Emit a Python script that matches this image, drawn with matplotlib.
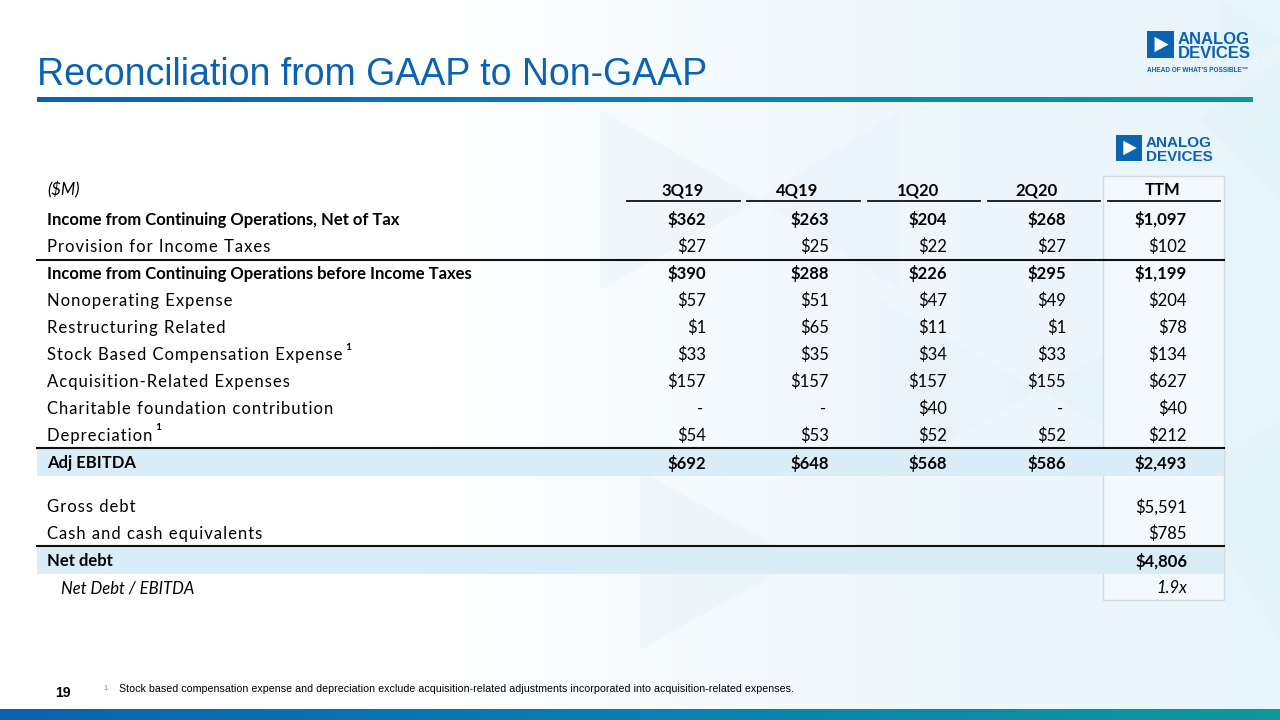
import numpy as np
import matplotlib.pyplot as plt
from matplotlib.patches import Rectangle, Polygon
from matplotlib.colors import LinearSegmentedColormap

# table data ($M)
row_labels = ["Income from Continuing Operations, Net of Tax",
              "Provision for Income Taxes",
              "Income from Continuing Operations before Income Taxes",
              "Nonoperating Expense",
              "Restructuring Related",
              "Stock Based Compensation Expense",
              "Acquisition-Related Expenses",
              "Charitable foundation contribution",
              "Depreciation",
              "Adj EBITDA"]
col_labels = ["3Q19", "4Q19", "1Q20", "2Q20", "TTM"]
q3_19 = [362, 27, 390, 57, 1, 33, 157, None, 54, 692]
q4_19 = [263, 25, 288, 51, 65, 35, 157, None, 53, 648]
q1_20 = [204, 22, 226, 47, 11, 34, 157, 40, 52, 568]
q2_20 = [268, 27, 295, 49, 1, 33, 155, None, 52, 586]
ttm = [1097, 102, 1199, 204, 78, 134, 627, 40, 212, 2493]
bold_rows = [0, 2, 9]
footnote_rows = [5, 8]

debt_labels = ["Gross debt", "Cash and cash equivalents", "Net debt"]
debt_ttm = [5591, 785, 4806]
net_debt_to_ebitda = 1.9

BLUE = "#0b62b0"
TEAL = "#0a9a9c"
LABEL_FONT = ["Lato", "DejaVu Sans"]
HAIR = "\u200a"

fig = plt.figure(figsize=(12.8, 7.2), dpi=100)
ax = fig.add_axes([0, 0, 1, 1])
ax.set_xlim(0, 1280)
ax.set_ylim(720, 0)
ax.axis("off")

# background: white on the left fading to pale blue on the right
bg = LinearSegmentedColormap.from_list("bg", ["#ffffff", "#ffffff", "#f0f8fd", "#e8f4fb"])
ax.imshow(np.linspace(0, 1, 256)[None, :], cmap=bg, extent=[0, 1280, 720, 0], aspect="auto", zorder=0)
tri_specs = [[(600, 110), (760, 200), (600, 290)], [(760, 200), (900, 110), (900, 290)],
             [(880, 300), (1040, 390), (880, 480)], [(1040, 390), (1200, 300), (1200, 480)],
             [(1200, 120), (1280, 60), (1280, 200)], [(1180, 480), (1280, 420), (1280, 640)],
             [(640, 470), (800, 560), (640, 650)], [(1220, 0), (1280, 40), (1220, 80)]]
for pts in tri_specs:
    ax.add_patch(Polygon(pts, closed=True, color="#dceef8", alpha=0.25, lw=0, zorder=0.5))

# title + gradient rules
ax.text(37, 75, "Reconciliation from GAAP to Non-GAAP", fontsize=27, color=BLUE,
        family="Liberation Sans", va="center", ha="left", zorder=3)
grad = LinearSegmentedColormap.from_list("g", [BLUE, "#0a7fb4", TEAL])
ax.imshow(np.linspace(0, 1, 256)[None, :], cmap=grad, extent=[37, 1253, 102, 97], aspect="auto", zorder=2)
ax.imshow(np.linspace(0, 1, 256)[None, :], cmap=grad, extent=[0, 1280, 720, 709], aspect="auto", zorder=2)


def logo(x, y, s, fs, tagline):
    ax.add_patch(Rectangle((x, y), s, s, color=BLUE, lw=0, zorder=3))
    ax.add_patch(Polygon([(x + 0.28 * s, y + 0.22 * s), (x + 0.8 * s, y + 0.5 * s), (x + 0.28 * s, y + 0.78 * s)],
                         closed=True, color="white", lw=0, zorder=4))
    ax.text(x + s + 4, y + 0.47 * s, "ANALOG", fontsize=fs, color=BLUE, weight="bold",
            family="Liberation Sans", va="baseline", ha="left", zorder=4)
    ax.text(x + s + 4, y + s, "DEVICES", fontsize=fs, color=BLUE, weight="bold",
            family="Liberation Sans", va="baseline", ha="left", zorder=4)
    if tagline:
        ax.text(x, y + s + 12, "AHEAD OF WHAT\u2019S POSSIBLE\u2122", fontsize=4.7, color=BLUE, weight="bold",
                family="Liberation Sans", va="center", ha="left", zorder=4)


logo(1147, 31, 27, 12, True)
logo(1116, 135, 26, 11, False)

# TTM column box
ax.add_patch(Rectangle((1103, 176), 121, 424, facecolor="#f3f9fd", edgecolor="#d6dadd", lw=1.0, zorder=1))

# header
ax.text(47, 190, "($M)", fontsize=12, style="italic", family=LABEL_FONT, va="center", ha="left", zorder=3)
col_right = [706, 829, 947, 1066, 1187]
col_center = [683, 797, 918, 1036, 1163]
rule_spans = [(627, 740), (747, 860), (868, 980), (988, 1100), (1108, 1220)]
for lab, cx, (x0, x1) in zip(col_labels, col_center, rule_spans):
    ax.text(cx, 190, lab, fontsize=12, weight="bold", family=LABEL_FONT, va="center", ha="center", zorder=3)
    ax.plot([x0, x1], [201, 201], color="#111111", lw=1.3, zorder=3)

# shaded total bands
for y0 in (449, 547):
    ax.add_patch(Rectangle((37, y0), 1187, 27, facecolor="#d9edf9", lw=0, zorder=1.5))

# horizontal rules
for y in (260, 448, 546):
    ax.plot([37, 1224], [y, y], color="#111111", lw=1.5, zorder=3)

row_y = [220, 247, 274, 301, 328, 355, 382, 409, 436, 463]
columns = [q3_19, q4_19, q1_20, q2_20, ttm]


def money(v):
    return "${:,.0f}".format(v)


def spaced(s):
    # regular-weight labels in the source use expanded letter spacing
    return HAIR.join(s)


for i, (lab, y) in enumerate(zip(row_labels, row_y)):
    bold = i in bold_rows
    w = "bold" if bold else "normal"
    t = ax.text(47, y, lab if bold else spaced(lab), fontsize=12, weight=w, family=LABEL_FONT,
                va="center", ha="left", zorder=3)
    if i in footnote_rows:
        fig.canvas.draw()
        bb = t.get_window_extent()
        ax.text(bb.x1 + 3, y - 8, "1", fontsize=7.5, weight="bold", family=LABEL_FONT,
                va="center", ha="left", zorder=3)
    for vals, xr in zip(columns, col_right):
        v = vals[i]
        if v is None:
            ax.text(xr - 3, y, "-", fontsize=12, family=LABEL_FONT, va="center", ha="right", zorder=3)
        else:
            ax.text(xr, y, money(v), fontsize=12, weight=w, family=LABEL_FONT, va="center", ha="right", zorder=3)

debt_y = [507, 534, 561]
for lab, v, y in zip(debt_labels, debt_ttm, debt_y):
    bold = lab == "Net debt"
    w = "bold" if bold else "normal"
    ax.text(47, y, lab if bold else spaced(lab), fontsize=12, weight=w, family=LABEL_FONT,
            va="center", ha="left", zorder=3)
    ax.text(col_right[4], y, money(v), fontsize=12, weight=w, family=LABEL_FONT, va="center", ha="right", zorder=3)

ax.text(61, 588, "Net Debt / EBITDA", fontsize=12, style="italic", family=LABEL_FONT, va="center", ha="left", zorder=3)
ax.text(col_right[4], 588, "{:.1f}x".format(net_debt_to_ebitda), fontsize=12, style="italic",
        family=LABEL_FONT, va="center", ha="right", zorder=3)

# footer
ax.text(55, 693, "19", fontsize=10, weight="bold", family="Liberation Sans", va="center", ha="left", zorder=3)
ax.text(103, 689, "1.", fontsize=5.5, color="#888888", family="Liberation Sans", va="center", ha="left", zorder=3)
ax.text(119, 689, "Stock based compensation expense and depreciation exclude acquisition-related adjustments "
        "incorporated into acquisition-related expenses.", fontsize=7.7, family="Liberation Sans",
        va="center", ha="left", zorder=3)

fig.savefig("out.png", dpi=100)
